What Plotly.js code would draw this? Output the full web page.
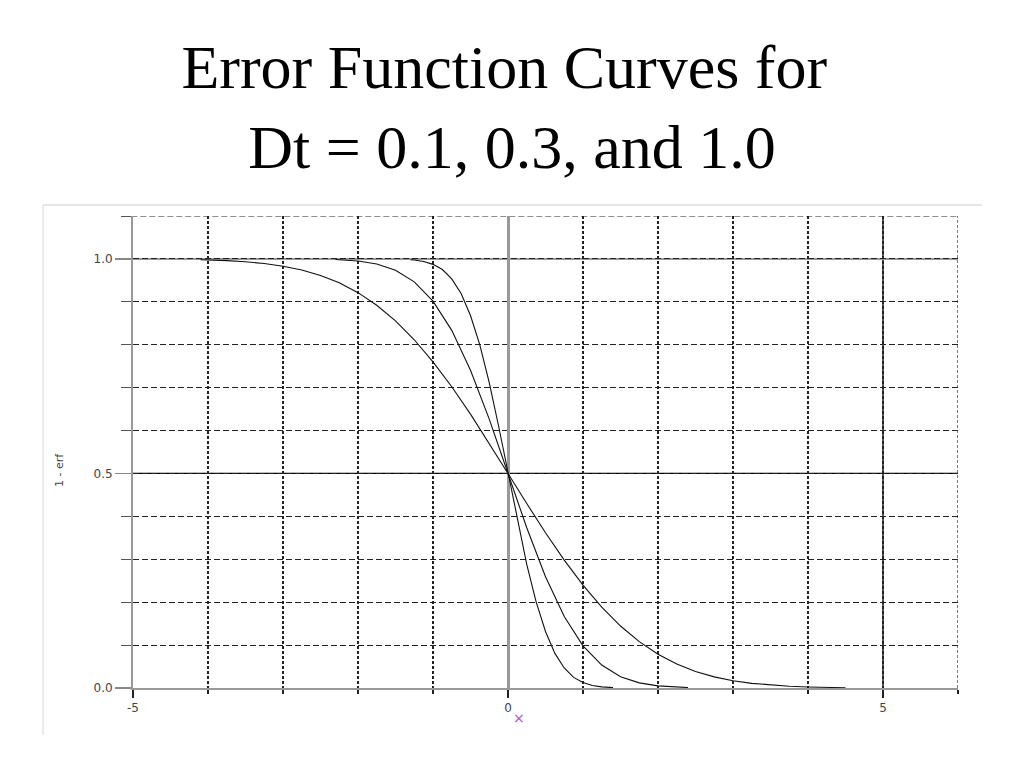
<!DOCTYPE html>
<html>
<head>
<meta charset="utf-8">
<script src="https://cdn.plot.ly/plotly-3.0.1.min.js"></script>
<style>html,body{margin:0;padding:0;background:#fff;}#chart{width:1024px;height:768px;}</style>
</head>
<body>
<div id="chart"></div>
<script>
// Dt = 0.1 (steepest curve)
var xDt01 = [-1.3, -1.25, -1.125, -1.0, -0.875, -0.75, -0.625, -0.5, -0.375, -0.25, -0.125, 0, 0.125, 0.25, 0.375, 0.5, 0.625, 0.75, 0.875, 1.0, 1.125, 1.25, 1.4];
var yDt01 = [0.9980, 0.9974, 0.9940, 0.9873, 0.9752, 0.9533, 0.9193, 0.8682, 0.7991, 0.7118, 0.6100, 0.5, 0.3900, 0.2882, 0.2009, 0.1318, 0.0807, 0.0467, 0.0248, 0.0127, 0.0060, 0.0026, 0.0008];
// Dt = 0.3
var xDt03 = [-2.3, -2.25, -2.0, -1.75, -1.5, -1.25, -1.0, -0.75, -0.5, -0.25, 0, 0.25, 0.5, 0.75, 1.0, 1.25, 1.5, 1.75, 2.0, 2.25, 2.4];
var yDt03 = [0.9987, 0.9981, 0.9950, 0.9880, 0.9736, 0.9465, 0.9017, 0.8335, 0.7406, 0.6266, 0.5, 0.3734, 0.2594, 0.1665, 0.0983, 0.0535, 0.0264, 0.0120, 0.0050, 0.0019, 0.0010];
// Dt = 1.0 (widest curve)
var xDt10 = [-4.1, -4.0, -3.75, -3.5, -3.25, -3.0, -2.75, -2.5, -2.25, -2.0, -1.75, -1.5, -1.25, -1.0, -0.75, -0.5, -0.25, 0, 0.25, 0.5, 0.75, 1.0, 1.25, 1.5, 1.75, 2.0, 2.25, 2.5, 2.75, 3.0, 3.25, 3.5, 3.75, 4.0, 4.25, 4.5];
var yDt10 = [0.9980, 0.9977, 0.9960, 0.9933, 0.9892, 0.9830, 0.9741, 0.9615, 0.9442, 0.9214, 0.8920, 0.8556, 0.8116, 0.7602, 0.7020, 0.6382, 0.5701, 0.5, 0.4299, 0.3618, 0.2980, 0.2398, 0.1884, 0.1444, 0.1080, 0.0786, 0.0558, 0.0385, 0.0259, 0.0170, 0.0108, 0.0067, 0.0040, 0.0023, 0.0013, 0.0007];

var xTickVals = [-5, 0, 5];
var xTickText = ['-5', '0', '5'];
var yTickVals = [0, 0.5, 1.0];
var yTickText = ['0.0', '0.5', '1.0'];

var lineStyle = {color: '#111', width: 1.1};
var traces = [
  {x: xDt01, y: yDt01, mode: 'lines', name: 'Dt = 0.1', line: lineStyle, hoverinfo: 'none'},
  {x: xDt03, y: yDt03, mode: 'lines', name: 'Dt = 0.3', line: lineStyle, hoverinfo: 'none'},
  {x: xDt10, y: yDt10, mode: 'lines', name: 'Dt = 1.0', line: lineStyle, hoverinfo: 'none'}
];

var tickFont = {family: 'DejaVu Sans, sans-serif', size: 12, color: '#444'};

var layout = {
  width: 1024, height: 768,
  margin: {l: 133, r: 66, t: 216, b: 80},
  paper_bgcolor: '#fff', plot_bgcolor: '#fff',
  showlegend: false,
  title: {
    text: 'Error Function Curves for <br>Dt = 0.1, 0.3, and 1.0',
    font: {family: 'Liberation Serif, Times New Roman, serif', size: 62, color: '#000'},
    x: 0.5, xanchor: 'center', xref: 'container',
    y: 0.886, yanchor: 'top', yref: 'container'
  },
  xaxis: {
    range: [-5, 6], fixedrange: true,
    tickvals: xTickVals, ticktext: xTickText,
    ticks: 'outside', ticklen: 8, tickwidth: 1.5, tickcolor: '#222',
    tickfont: tickFont,
    showline: true, linecolor: '#999', linewidth: 2,
    showgrid: false,
    zeroline: true, zerolinecolor: '#999', zerolinewidth: 3,
    minor: {dtick: 1, tick0: 0, showgrid: true, gridcolor: '#222', gridwidth: 1.2, griddash: '3px,2px',
            ticks: 'outside', ticklen: 4, tickcolor: '#222'}
  },
  yaxis: {
    range: [0, 1.1], fixedrange: true,
    tickvals: yTickVals, ticktext: yTickText,
    ticks: 'outside', ticklen: 16, tickwidth: 1.5, tickcolor: '#888',
    tickfont: tickFont,
    showline: true, linecolor: '#999', linewidth: 2,
    showgrid: false, zeroline: false,
    minor: {dtick: 0.1, tick0: 0, showgrid: true, gridcolor: '#222', gridwidth: 1, griddash: '6px,3px',
            ticks: 'outside', ticklen: 10, tickwidth: 1, tickcolor: '#555'}
  },
  shapes: [
    {type: 'line', xref: 'x', yref: 'paper', x0: 5, x1: 5, y0: 0, y1: 1, line: {color: '#555', width: 2}, layer: 'between'},
    {type: 'line', xref: 'x', yref: 'paper', x0: 6, x1: 6, y0: 0, y1: 1, line: {color: '#222', width: 1.2, dash: '3px,2px'}, layer: 'between'},
    {type: 'line', xref: 'paper', yref: 'y', x0: 0, x1: 1, y0: 0.5, y1: 0.5, line: {color: '#000', width: 1.3}, layer: 'between'},
    {type: 'line', xref: 'paper', yref: 'y', x0: 0, x1: 1, y0: 1.0, y1: 1.0, line: {color: '#999', width: 2}, layer: 'between'},
    {type: 'line', xref: 'paper', yref: 'y', x0: -0.013, x1: 1, y0: 1.1, y1: 1.1, line: {color: '#222', width: 1, dash: '6px,3px'}, layer: 'between'},
    {type: 'line', xref: 'paper', yref: 'paper', x0: -0.109, x1: 1.029, y0: 1.0233, y1: 1.0233, line: {color: '#ccc', width: 1.2}},
    {type: 'line', xref: 'paper', yref: 'paper', x0: -0.109, x1: -0.109, y0: 1.0233, y1: -0.0996, line: {color: '#ddd', width: 1.2}}
  ],
  annotations: [
    {text: '1 - erf', xref: 'paper', yref: 'paper', x: -0.0885, y: 0.462, showarrow: false,
     xanchor: 'center', yanchor: 'middle',
     textangle: -90, font: {family: 'DejaVu Sans, sans-serif', size: 11, color: '#444'}},
    {text: '×', xref: 'paper', yref: 'paper', x: 0.468, y: -0.0636, showarrow: false,
     xanchor: 'center', yanchor: 'middle',
     font: {family: 'DejaVu Sans, sans-serif', size: 14, color: '#b050c0'}}
  ]
};

Plotly.newPlot('chart', traces, layout, {staticPlot: true, displayModeBar: false});
</script>
</body>
</html>
